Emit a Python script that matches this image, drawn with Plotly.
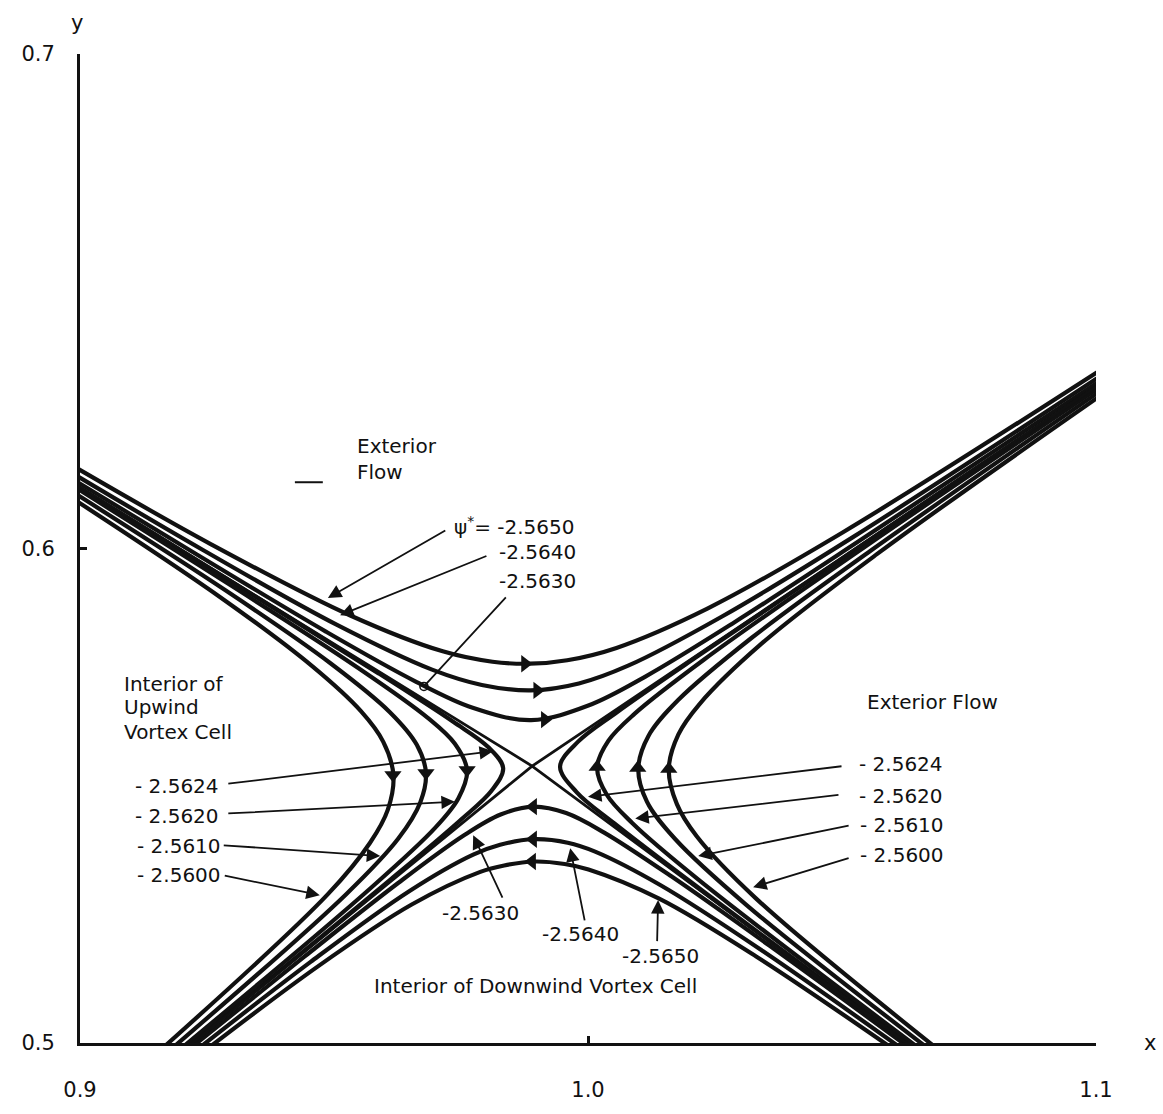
import plotly.graph_objects as go

# ---------------- data ----------------
# Upper streamlines (exterior flow above the saddle point), psi* = -2.5650, -2.5640, -2.5630
u1_x = [0.8981, 0.9259, 0.9531, 0.9714, 0.9812, 0.9886, 0.9959, 1.0056, 1.0236, 1.0502, 1.1015]
u1_y = [0.6170, 0.6008, 0.5865, 0.5792, 0.5771, 0.5767, 0.5774, 0.5799, 0.5879, 0.6033, 0.6365]
u2_x = [0.8969, 0.9242, 0.9505, 0.9693, 0.9791, 0.9887, 0.9982, 1.0079, 1.0263, 1.0520, 1.1024]
u2_y = [0.6162, 0.5997, 0.5846, 0.5755, 0.5724, 0.5713, 0.5727, 0.5763, 0.5862, 0.6022, 0.6359]
u3_x = [0.8960, 0.9230, 0.9484, 0.9659, 0.9773, 0.9888, 1.0002, 1.0113, 1.0284, 1.0532, 1.1031]
u3_y = [0.6156, 0.5988, 0.5832, 0.5732, 0.5678, 0.5653, 0.5683, 0.5741, 0.5848, 0.6014, 0.6355]

# Lower streamlines (downwind vortex cell), psi* = -2.5630, -2.5640, -2.5650
d3_x = [0.9166, 0.9441, 0.9627, 0.9756, 0.9828, 0.9892, 0.9957, 1.0031, 1.0164, 1.0357, 1.0674]
d3_y = [0.4947, 0.5174, 0.5324, 0.5420, 0.5462, 0.5478, 0.5465, 0.5426, 0.5337, 0.5197, 0.4959]
d2_x = [0.9174, 0.9454, 0.9648, 0.9774, 0.9827, 0.9893, 0.9960, 1.0014, 1.0143, 1.0344, 1.0666]
d2_y = [0.4941, 0.5164, 0.5307, 0.5381, 0.5401, 0.5412, 0.5405, 0.5387, 0.5319, 0.5186, 0.4953]
d1_x = [0.9182, 0.9467, 0.9653, 0.9788, 0.9835, 0.9894, 0.9954, 1.0001, 1.0140, 1.0331, 1.0658]
d1_y = [0.4934, 0.5154, 0.5280, 0.5346, 0.5359, 0.5367, 0.5362, 0.5351, 0.5292, 0.5175, 0.4947]

# Left streamlines (upwind vortex cell), psi* = -2.5624, -2.5620, -2.5610, -2.5600
l1_x = [0.8954, 0.9304, 0.9587, 0.9734, 0.9804, 0.9833, 0.9810, 0.9747, 0.9614, 0.9161]
l1_y = [0.6151, 0.5929, 0.5748, 0.5650, 0.5598, 0.5556, 0.5510, 0.5449, 0.5333, 0.4951]
l2_x = [0.8951, 0.9299, 0.9544, 0.9684, 0.9738, 0.9762, 0.9745, 0.9699, 0.9573, 0.9157]
l2_y = [0.6149, 0.5924, 0.5761, 0.5658, 0.5605, 0.5551, 0.5495, 0.5435, 0.5314, 0.4953]
l3_x = [0.8943, 0.9287, 0.9493, 0.9610, 0.9663, 0.9681, 0.9670, 0.9627, 0.9524, 0.9147]
l3_y = [0.6142, 0.5915, 0.5768, 0.5669, 0.5603, 0.5546, 0.5487, 0.5414, 0.5301, 0.4959]
l4_x = [0.8935, 0.9274, 0.9457, 0.9553, 0.9597, 0.9617, 0.9606, 0.9571, 0.9488, 0.9137]
l4_y = [0.6135, 0.5903, 0.5762, 0.5671, 0.5609, 0.5541, 0.5472, 0.5405, 0.5301, 0.4966]

# Right streamlines (exterior flow), psi* = -2.5624, -2.5620, -2.5610, -2.5600
r1_x = [1.1037, 1.0541, 1.0217, 1.0057, 0.9980, 0.9945, 0.9978, 1.0052, 1.0207, 1.0678]
r1_y = [0.6351, 0.6008, 0.5783, 0.5669, 0.5609, 0.5559, 0.5507, 0.5444, 0.5322, 0.4963]
r2_x = [1.1040, 1.0546, 1.0228, 1.0092, 1.0040, 1.0018, 1.0037, 1.0087, 1.0218, 1.0682]
r2_y = [0.6349, 0.6004, 0.5775, 0.5666, 0.5611, 0.5557, 0.5502, 0.5445, 0.5330, 0.4966]
r3_x = [1.1046, 1.0557, 1.0323, 1.0178, 1.0119, 1.0099, 1.0116, 1.0172, 1.0311, 1.0691]
r3_y = [0.6345, 0.5996, 0.5820, 0.5694, 0.5621, 0.5555, 0.5488, 0.5412, 0.5280, 0.4972]
r4_x = [1.1052, 1.0568, 1.0341, 1.0220, 1.0178, 1.0159, 1.0175, 1.0214, 1.0330, 1.0700]
r4_y = [0.6340, 0.5988, 0.5807, 0.5686, 0.5624, 0.5554, 0.5483, 0.5418, 0.5293, 0.4978]

# Dividing streamlines crossing at the saddle point
sep_a_x = [0.8962, 0.9389, 0.9890, 1.0283, 1.0677]
sep_a_y = [0.6148, 0.5877, 0.5560, 0.5261, 0.4962]
sep_b_x = [0.9162, 0.9587, 0.9890, 1.0459, 1.1036]
sep_b_y = [0.4950, 0.5306, 0.5560, 0.5953, 0.6352]

# Flow-direction arrowheads on the streamlines
arrow_right_x = [0.9876, 0.9900, 0.9915]
arrow_right_y = [0.5767, 0.5713, 0.5654]
arrow_left_x = [0.9892, 0.9892, 0.9890]
arrow_left_y = [0.5478, 0.5412, 0.5367]
arrow_down_x = [0.9762, 0.9681, 0.9616]
arrow_down_y = [0.5552, 0.5546, 0.5542]
arrow_up_x = [1.0018, 1.0098, 1.0159]
arrow_up_y = [0.5558, 0.5556, 0.5554]

# Axis ticks
x_ticks = [0.9, 1.0, 1.1]
x_tick_text = ["0.9", "1.0", "1.1"]
y_ticks = [0.5, 0.6, 0.7]
y_tick_text = ["0.5", "0.6", "0.7"]

# Label texts
upper_labels = ["ψ<sup>*</sup>= -2.5650", "-2.5640", "-2.5630"]
left_labels = ["- 2.5624", "- 2.5620", "- 2.5610", "- 2.5600"]
right_labels = ["- 2.5624", "- 2.5620", "- 2.5610", "- 2.5600"]
lower_labels = ["-2.5630", "-2.5640", "-2.5650"]
region_labels = ["Exterior", "Flow", "Interior of", "Upwind", "Vortex Cell",
                 "Exterior Flow", "Interior of Downwind Vortex Cell"]

# ---------------- placement (layout only) ----------------
upper_label_pos = [(0.9732, 0.6046), (0.9821, 0.5992), (0.9821, 0.5934)]
left_label_pos = [(0.9104, 0.5520), (0.9104, 0.5460), (0.9108, 0.5398), (0.9108, 0.5339)]
right_label_pos = [(1.0530, 0.5564), (1.0530, 0.5500), (1.0531, 0.5440), (1.0531, 0.5380)]
lower_label_pos = [(0.9709, 0.5263), (0.9906, 0.5221), (1.0063, 0.5175)]
region_label_pos = [(0.9541, 0.6207), (0.9541, 0.6155), (0.9083, 0.5727), (0.9083, 0.5679),
                    (0.9083, 0.5629), (1.0545, 0.5689), (0.9575, 0.5116)]

# pointer lines: (tail x, tail y, tip x, tip y)
upper_ptr = [(0.9722, 0.6038, 0.9488, 0.5900), (0.9803, 0.5986, 0.9512, 0.5865)]
upper_ptr_circle = (0.9841, 0.5904, 0.9677, 0.5721)
left_ptr = [(0.9289, 0.5524, 0.9813, 0.5590), (0.9289, 0.5464, 0.9738, 0.5488),
            (0.9280, 0.5400, 0.9591, 0.5378), (0.9282, 0.5339, 0.9472, 0.5299)]
right_ptr = [(1.0502, 0.5560, 1.0000, 0.5498), (1.0496, 0.5502, 1.0093, 0.5454),
             (1.0516, 0.5440, 1.0217, 0.5378), (1.0516, 0.5375, 1.0325, 0.5315)]
lower_ptr = [(0.9833, 0.5291, 0.9774, 0.5420), (0.9994, 0.5245, 0.9965, 0.5394),
             (1.0136, 0.5203, 1.0138, 0.5289)]

FONT = "DejaVu Sans"
INK = "#111111"
TXT = 20

fig = go.Figure()

curves = [(u1_x, u1_y), (u2_x, u2_y), (u3_x, u3_y),
          (d1_x, d1_y), (d2_x, d2_y), (d3_x, d3_y),
          (l1_x, l1_y), (l2_x, l2_y), (l3_x, l3_y), (l4_x, l4_y),
          (r1_x, r1_y), (r2_x, r2_y), (r3_x, r3_y), (r4_x, r4_y)]
for cx, cy in curves:
    fig.add_trace(go.Scatter(x=cx, y=cy, mode="lines",
                             line=dict(color=INK, width=4.2, shape="spline", smoothing=1.0),
                             hoverinfo="skip", showlegend=False))

for cx, cy in [(sep_a_x, sep_a_y), (sep_b_x, sep_b_y)]:
    fig.add_trace(go.Scatter(x=cx, y=cy, mode="lines",
                             line=dict(color=INK, width=2.8),
                             hoverinfo="skip", showlegend=False))

for ax_, ay_, sym in [(arrow_right_x, arrow_right_y, "triangle-right"),
                      (arrow_left_x, arrow_left_y, "triangle-left"),
                      (arrow_down_x, arrow_down_y, "triangle-down"),
                      (arrow_up_x, arrow_up_y, "triangle-up")]:
    fig.add_trace(go.Scatter(x=ax_, y=ay_, mode="markers",
                             marker=dict(symbol=sym, size=15, color=INK, line=dict(width=0)),
                             hoverinfo="skip", showlegend=False))

# small open circle at end of the -2.5630 pointer
fig.add_trace(go.Scatter(x=[upper_ptr_circle[2]], y=[upper_ptr_circle[3]], mode="markers",
                         marker=dict(symbol="circle-open", size=8, color=INK, line=dict(width=1.6)),
                         hoverinfo="skip", showlegend=False))

annotations = []

def add_text(txt, pos):
    annotations.append(dict(x=pos[0], y=pos[1], xref="x", yref="y", text=txt,
                            showarrow=False, xanchor="left", yanchor="middle",
                            font=dict(family=FONT, size=TXT, color=INK)))

for txt, pos in zip(upper_labels, upper_label_pos):
    add_text(txt, pos)
for txt, pos in zip(left_labels, left_label_pos):
    add_text(txt, pos)
for txt, pos in zip(right_labels, right_label_pos):
    add_text(txt, pos)
for txt, pos in zip(lower_labels, lower_label_pos):
    add_text(txt, pos)
for txt, pos in zip(region_labels, region_label_pos):
    add_text(txt, pos)

def add_ptr(p, head=2):
    annotations.append(dict(x=p[2], y=p[3], ax=p[0], ay=p[1], xref="x", yref="y",
                            axref="x", ayref="y", text="", showarrow=True,
                            arrowhead=head, arrowsize=1.5, arrowwidth=1.8, arrowcolor=INK))

for p in upper_ptr + left_ptr + right_ptr + lower_ptr:
    add_ptr(p)
add_ptr(upper_ptr_circle, head=0)

# axis names
annotations.append(dict(x=1.053, y=0.0, xref="paper", yref="paper", text="x", showarrow=False,
                        xanchor="center", yanchor="middle", font=dict(family=FONT, size=21, color=INK)))
annotations.append(dict(x=-0.003, y=1.031, xref="paper", yref="paper", text="y", showarrow=False,
                        xanchor="center", yanchor="middle", font=dict(family=FONT, size=21, color=INK)))

fig.update_layout(
    width=1163, height=1114,
    margin=dict(l=80, r=67, t=54, b=56),
    paper_bgcolor="white", plot_bgcolor="white",
    annotations=annotations,
    shapes=[dict(type="line", xref="x", yref="y", x0=0.9423, x1=0.9478, y0=0.6134, y1=0.6134,
                 line=dict(color=INK, width=2))],
    xaxis=dict(range=[0.9, 1.1], showgrid=False, zeroline=False, showline=True,
               linecolor=INK, linewidth=3, ticks="inside", ticklen=7, tickwidth=3, tickcolor=INK,
               tickvals=x_ticks, ticktext=x_tick_text, ticklabelstandoff=26,
               tickfont=dict(family=FONT, size=21, color=INK), fixedrange=True),
    yaxis=dict(range=[0.5, 0.7], showgrid=False, zeroline=False, showline=True,
               linecolor=INK, linewidth=3, ticks="inside", ticklen=7, tickwidth=3, tickcolor=INK,
               tickvals=y_ticks, ticktext=y_tick_text, ticklabelstandoff=18,
               tickfont=dict(family=FONT, size=21, color=INK), fixedrange=True),
)

fig.write_html("out.html", config={"displayModeBar": False})
